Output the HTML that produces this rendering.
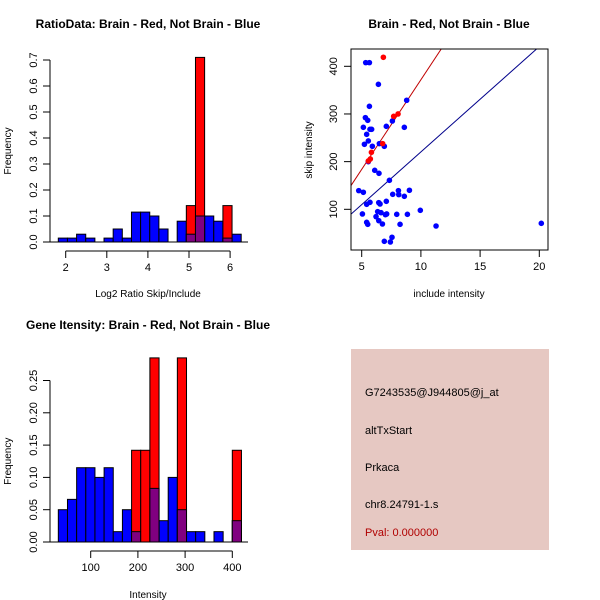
<!DOCTYPE html>
<html><head><meta charset="utf-8"><style>
body{margin:0;background:#fff}
svg{display:block;font-family:"Liberation Sans",sans-serif}
</style></head><body>
<svg id="s" width="600" height="600" viewBox="0 0 600 600">
<rect width="600" height="600" fill="#fff"/>
<g id="g1"></g>
<g id="g2"></g>
<g id="g3"></g>
<g>
<rect x="351" y="349" width="198" height="201" fill="#e6c8c2"/>
<text x="365" y="396" font-size="11">G7243535@J944805@j_at</text>
<text x="365" y="434" font-size="11">altTxStart</text>
<text x="365" y="471" font-size="11">Prkaca</text>
<text x="365" y="508" font-size="11">chr8.24791-1.s</text>
<text x="365" y="536" font-size="11" fill="#b00000">Pval: 0.000000</text>
</g>
</svg>
<script>
// ---- data ----
const ratioBinStart = 1.82, ratioBinWidth = 0.2225;
const ratioBlue = [0.015,0.015,0.03,0.015,0,0.015,0.05,0.015,0.115,0.115,0.1,0.05,0,0.08,0.03,0.1,0.1,0.08,0.015,0.03];
const ratioRed  = [0,0,0,0,0,0,0,0,0,0,0,0,0,0,0.14,0.71,0,0,0.14,0];
const ratioXTicks = [2,3,4,5,6];
const ratioYTicks = [0,0.1,0.2,0.3,0.4,0.5,0.6,0.7];
const intBinStart = 31.4, intBinWidth = 19.4;
const intBlue = [0.05,0.066,0.115,0.115,0.1,0.115,0.016,0.05,0.016,0,0.083,0.033,0.1,0.05,0.016,0.016,0,0.016,0,0.033];
const intRed  = [0,0,0,0,0,0,0,0,0.142,0.142,0.285,0,0,0.285,0,0,0,0,0,0.142];
const intXTicks = [100,200,300,400];
const intYTicks = [0,0.05,0.10,0.15,0.20,0.25];
const blueX = [5.34,5.65,6.41,5.65,5.31,5.51,5.14,7.08,8.60,8.80,5.42,5.70,5.84,5.56,5.23,5.90,6.49,6.91,7.59,5.56,6.10,6.46,7.34,4.75,5.14,9.03,8.10,7.62,8.13,8.60,5.42,5.70,6.44,6.55,7.08,5.06,6.35,6.63,6.21,6.44,7.00,7.11,7.96,8.86,9.95,5.42,5.51,6.75,8.24,11.28,7.56,6.91,7.42,20.17];
const blueY = [407.7,407.7,362.2,316.1,292.3,286.7,272,274.1,272,328.7,257.3,267.8,267.8,243.4,236.4,232.2,237.8,232.2,285.3,200,181.8,175.5,160.8,139.2,135.7,139.9,139.2,131.5,130.8,127.3,110.5,114.7,114,111.2,116.8,90.2,95.1,93,84.6,76.2,88.8,90.2,89.5,89.5,97.9,72.7,68.5,69.2,68.5,65,41.3,32.9,31.5,70.6];
const redX = [6.83,8.07,7.70,5.82,5.73,5.56,6.77];
const redY = [418.9,300,295.1,219.6,205.6,201.4,237.8];
const redFit = [-4.2,37.6];
const blueFit = [-0.6,22.1];
const scXTicks = [5,10,15,20];
const scYTicks = [100,200,300,400];

const NS='http://www.w3.org/2000/svg';
function mk(p,t,a){const e=document.createElementNS(NS,t);for(const k in a)e.setAttribute(k,a[k]);p.appendChild(e);return e;}
function txt(p,x,y,s,size,extra){const e=mk(p,'text',Object.assign({x:x,y:y,'font-size':size,'text-anchor':'middle'},extra||{}));e.textContent=s;return e;}

function hist(g,o){
  const sx=v=>o.x0+(v-o.v0)*o.kx, sy=v=>o.y0-v*o.ky;
  const start=o.binStart;
  o.blue.forEach((v,i)=>{ if(v<=0) return;
    const r=mk(g,'rect',{x:sx(start+i*o.bw),y:sy(v),width:o.bw*o.kx,height:v*o.ky,fill:'#0000ff',stroke:'#000','stroke-width':1});
    
    
  });
  o.red.forEach((v,i)=>{ if(v<=0) return;
    const r=mk(g,'rect',{x:sx(start+i*o.bw),y:sy(v),width:o.bw*o.kx,height:v*o.ky,fill:'#ff0000',stroke:'#000','stroke-width':1});
    
    
    const b=Math.min(v,o.blue[i]); if(b>0){
      const p=mk(g,'rect',{x:sx(start+i*o.bw),y:sy(b),width:o.bw*o.kx,height:b*o.ky,fill:'#800080',stroke:'#000','stroke-width':1});
      
      
    }
  });
  mk(g,'line',{x1:50,x2:248,y1:o.y0,y2:o.y0,stroke:'#000'});
  const xa=mk(g,'g',{});
  
  
  const ay=o.y0+9;
  mk(xa,'line',{x1:sx(o.xt[0]),x2:sx(o.xt[o.xt.length-1]),y1:ay,y2:ay,stroke:'#000'});
  o.xt.forEach(t=>{mk(xa,'line',{x1:sx(t),x2:sx(t),y1:ay,y2:ay+7,stroke:'#000'});txt(xa,sx(t),ay+20,String(t),11);});
  const ya=mk(g,'g',{});
  
  
  const ax=50;
  mk(ya,'line',{x1:ax,x2:ax,y1:sy(o.yt[0]),y2:sy(o.yt[o.yt.length-1]),stroke:'#000'});
  o.yt.forEach(t=>{mk(ya,'line',{x1:ax-7,x2:ax,y1:sy(t),y2:sy(t),stroke:'#000'});
    txt(ya,0,0,o.fmt(t),11,{transform:`translate(${ax-13},${sy(t)}) rotate(-90)`});});
  txt(g,0,0,'Frequency',10,{transform:`translate(11,${(sy(o.yt[0])+sy(o.yt[o.yt.length-1]))/2}) rotate(-90)`});
  txt(g,148,o.titleY,o.title,12,{'font-weight':'bold'});
  txt(g,148,o.xlabY,o.xlab,10);
}
hist(document.getElementById('g1'),{x0:65.7,v0:2,kx:41.1,y0:242,ky:260,binStart:ratioBinStart,bw:ratioBinWidth,blue:ratioBlue,red:ratioRed,xt:ratioXTicks,yt:ratioYTicks,fmt:t=>t.toFixed(1),title:'RatioData: Brain - Red, Not Brain - Blue',titleY:28,xlab:'Log2 Ratio Skip/Include',xlabY:297});
hist(document.getElementById('g3'),{x0:90.7,v0:100,kx:0.472,y0:542,ky:646,binStart:intBinStart,bw:intBinWidth,blue:intBlue,red:intRed,xt:intXTicks,yt:intYTicks,fmt:t=>t.toFixed(2),title:'Gene Itensity: Brain - Red, Not Brain - Blue',titleY:329,xlab:'Intensity',xlabY:598});

(function(){
  const g=document.getElementById('g2');
  const sx=v=>361.7+(v-5)*11.84, sy=v=>66.3-(v-400)*0.4767;
  const L=351,R=548,T=49,B=250;
  const cp=mk(g,'clipPath',{id:'cp'});mk(cp,'rect',{x:L,y:T,width:R-L,height:B-T});
  const fit=(f,c,n)=>{const xa=(L-361.7)/11.84+5, xb=(R-361.7)/11.84+5;
    const l=mk(g,'line',{x1:sx(xa),y1:sy(f[0]+f[1]*xa),x2:sx(xb),y2:sy(f[0]+f[1]*xb),stroke:c,'clip-path':'url(#cp)'});
    
    };
  fit(redFit,'#c00000','red-fit-line');
  fit(blueFit,'#00008b','blue-fit-line');
  blueX.forEach((x,i)=>{const c=mk(g,'circle',{cx:sx(x),cy:sy(blueY[i]),r:2.8,fill:'#0000ff'});
    
    });
  redX.forEach((x,i)=>{const c=mk(g,'circle',{cx:sx(x),cy:sy(redY[i]),r:2.8,fill:'#ff0000'});
    
    });
  mk(g,'rect',{x:L,y:T,width:R-L,height:B-T,fill:'none',stroke:'#000'});
  scXTicks.forEach(t=>{mk(g,'line',{x1:sx(t),x2:sx(t),y1:B,y2:B+7,stroke:'#000'});txt(g,sx(t),B+20,String(t),11);});
  scYTicks.forEach(t=>{mk(g,'line',{x1:L-7,x2:L,y1:sy(t),y2:sy(t),stroke:'#000'});
    txt(g,0,0,String(t),11,{transform:`translate(${L-14},${sy(t)}) rotate(-90)`});});
  txt(g,449,28,'Brain - Red, Not Brain - Blue',12,{'font-weight':'bold'});
  txt(g,449,297,'include intensity',10);
  txt(g,0,0,'skip intensity',10,{transform:'translate(312,150) rotate(-90)'});
})();
</script>
</body></html>
